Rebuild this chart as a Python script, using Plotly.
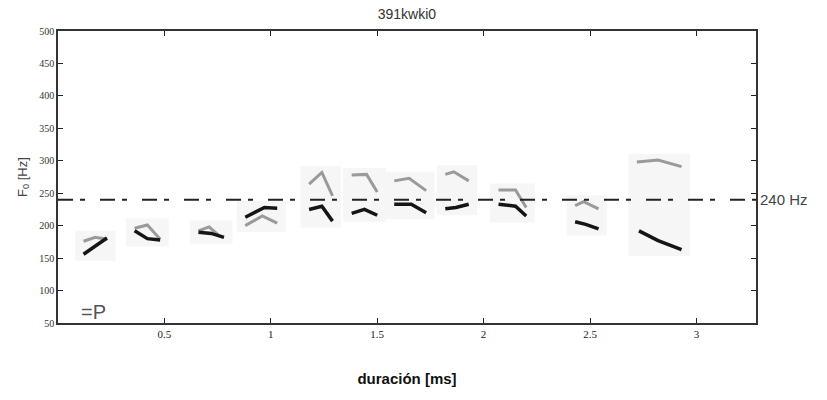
import plotly.graph_objects as go

# F0 contour segments: (x values [ms], y values [Hz])
dark_x = [
    [0.12, 0.175, 0.23],
    [0.36, 0.42, 0.48],
    [0.66, 0.72, 0.78],
    [0.88, 0.97, 1.03],
    [1.18, 1.24, 1.29],
    [1.38, 1.44, 1.50],
    [1.58, 1.66, 1.73],
    [1.82, 1.87, 1.93],
    [2.07, 2.15, 2.20],
    [2.43, 2.48, 2.54],
    [2.73, 2.82, 2.93],
]
dark_y = [
    [156, 169, 181],
    [192, 180, 178],
    [190, 188, 182],
    [213, 228, 227],
    [225, 230, 207],
    [219, 225, 216],
    [233, 233, 220],
    [226, 228, 233],
    [233, 230, 215],
    [206, 202, 195],
    [192, 177, 163],
]
light_x = [
    [0.12, 0.175, 0.23],
    [0.36, 0.42, 0.48],
    [0.66, 0.71, 0.76],
    [0.88, 0.96, 1.03],
    [1.18, 1.24, 1.29],
    [1.38, 1.45, 1.50],
    [1.58, 1.65, 1.73],
    [1.82, 1.86, 1.93],
    [2.07, 2.15, 2.20],
    [2.43, 2.47, 2.54],
    [2.72, 2.82, 2.93],
]
light_y = [
    [176, 182, 179],
    [196, 201, 179],
    [192, 198, 184],
    [200, 215, 204],
    [264, 282, 246],
    [278, 279, 252],
    [269, 273, 254],
    [279, 283, 269],
    [255, 255, 228],
    [231, 237, 226],
    [298, 301, 291],
]
ref_level = 240
x_ticks = [0.5, 1, 1.5, 2, 2.5, 3]
y_ticks = [50, 100, 150, 200, 250, 300, 350, 400, 450, 500]

fig = go.Figure()

# faint noisy patches behind each segment pair (scan background)
shapes = []
for dx, dy, lx, ly in zip(dark_x, dark_y, light_x, light_y):
    x0 = min(dx + lx) - 0.04
    x1 = max(dx + lx) + 0.04
    y0 = min(dy + ly) - 10
    y1 = max(dy + ly) + 10
    shapes.append(dict(type="rect", xref="x", yref="y", x0=x0, x1=x1, y0=y0, y1=y1,
                       fillcolor="#f6f6f6", line=dict(width=0), layer="below"))

for xs, ys in zip(light_x, light_y):
    fig.add_trace(go.Scatter(x=xs, y=ys, mode="lines", showlegend=False,
                             line=dict(color="#9a9a9a", width=3), hoverinfo="skip"))
for xs, ys in zip(dark_x, dark_y):
    fig.add_trace(go.Scatter(x=xs, y=ys, mode="lines", showlegend=False,
                             line=dict(color="#151515", width=3.5), hoverinfo="skip"))

shapes.append(dict(type="line", xref="paper", yref="y", x0=0, x1=1,
                   y0=ref_level, y1=ref_level,
                   line=dict(color="#222222", width=2, dash="15px,7px,5px,15px")))

fig.update_layout(
    width=827, height=400,
    margin=dict(l=58, r=71, t=31, b=77),
    paper_bgcolor="white", plot_bgcolor="white",
    shapes=shapes,
    title=dict(text="391kwki0", x=0.492, xanchor="center", y=1 - 14 / 400, yanchor="middle",
               font=dict(family="Liberation Sans, Arial", size=14, color="#333333")),
    xaxis=dict(range=[0, 3.28], tickvals=x_ticks, ticktext=[str(v) for v in x_ticks],
               ticks="inside", ticklen=5, tickcolor="#222", showline=True, linecolor="#333",
               linewidth=1.5, mirror="ticks", showgrid=False, zeroline=False,
               tickfont=dict(family="Liberation Serif, Times New Roman", size=11, color="#222"),
               title=dict(text="<b>duración [ms]</b>", standoff=35,
                          font=dict(family="Liberation Sans, Arial", size=15, color="#111"))),
    yaxis=dict(range=[50, 500], tickvals=y_ticks, ticks="inside", ticklen=5, tickcolor="#222",
               showline=True, linecolor="#333", linewidth=1.5, mirror="ticks",
               showgrid=False, zeroline=False,
               tickfont=dict(family="Liberation Serif, Times New Roman", size=10, color="#333"),
               title=dict(text="F<sub>0</sub> [Hz]", standoff=9,
                          font=dict(family="Liberation Sans, Arial", size=13, color="#444444"))),
    annotations=[
        dict(x=1.0, xref="paper", y=ref_level, yref="y", text="240 Hz", showarrow=False,
             xanchor="left", yanchor="middle", xshift=2,
             font=dict(family="Liberation Sans, Arial", size=15, color="#444")),
        dict(x=0.165, xref="x", y=67, yref="y", text="=P", showarrow=False,
             xanchor="center", yanchor="middle",
             font=dict(family="Liberation Sans, Arial", size=20, color="#555")),
    ],
)

fig.write_html("out.html")
